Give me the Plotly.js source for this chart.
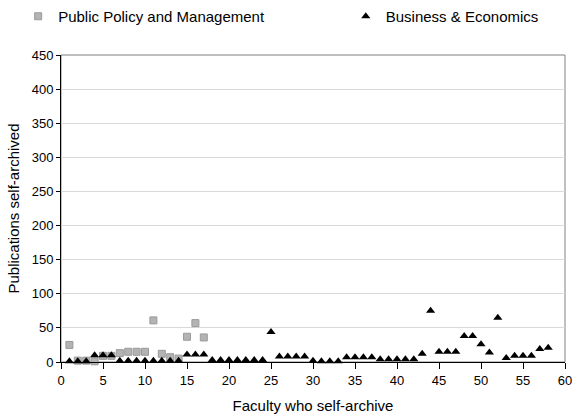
<!DOCTYPE html>
<html><head><meta charset="utf-8">
<script src="https://cdn.plot.ly/plotly-3.0.1.min.js"></script>
<style>html,body{margin:0;padding:0;background:#fff}#chart{width:573px;height:418px}</style>
</head><body><div id="chart"></div>
<script>
var ppmFaculty = [1,2,3,4,5,6,7,8,9,10,11,12,13,14,15,16,17];
var ppmPubs    = [25,2,2,1,9,9,13,15,15,15,61,12,7,5,37,57,36];
var beFaculty = [];
for (var i = 1; i <= 58; i++) beFaculty.push(i);
var bePubs = [1,1,1,10,10,10,2,2,2,2,2,2,2,2,11,11,11,3,3,3,3,3,3,3,44,8,8,8,8,2,1,1,1,7,7,7,7,4,4,4,4,4,12,75,15,15,15,38,38,26,14,65,6,9,9,9,19,21];
var xTicks = [0,5,10,15,20,25,30,35,40,45,50,55,60];
var yTicks = [0,50,100,150,200,250,300,350,400,450];

var fam = 'Liberation Sans, Arial, sans-serif';
function f(s) { return {family: fam, size: s, color: '#000'}; }
var traces = [
  {x: ppmFaculty, y: ppmPubs, mode: 'markers', type: 'scatter', name: 'Public Policy and Management',
   legend: 'legend',
   marker: {symbol: 'square', size: 7, color: '#b3b3b3', line: {color: '#9a9a9a', width: 1}}, cliponaxis: false},
  {x: beFaculty, y: bePubs, mode: 'markers', type: 'scatter', name: 'Business & Economics',
   legend: 'legend2',
   marker: {symbol: 'triangle-up', size: 8, color: '#000', line: {width: 0}}, cliponaxis: false}
];
var legBase = {orientation: 'h', xref: 'paper', y: 1.0, yref: 'container', yanchor: 'top',
               itemwidth: 30, font: f(15), bgcolor: 'rgba(0,0,0,0)'};
var layout = {
  width: 573, height: 418,
  margin: {l: 61, r: 8, t: 55, b: 56},
  paper_bgcolor: '#fff', plot_bgcolor: '#fff',
  font: f(13),
  showlegend: true,
  legend: Object.assign({}, legBase, {x: -0.085, xanchor: 'left'}),
  legend2: Object.assign({}, legBase, {x: 0.565, xanchor: 'left'}),
  xaxis: {range: [0, 60], tickvals: xTicks, ticktext: xTicks.map(String), ticks: 'outside', ticklen: 6,
          tickcolor: '#000', showline: true, linecolor: '#000', linewidth: 1, showgrid: false, zeroline: false,
          title: {text: 'Faculty who self-archive', font: f(15), standoff: 13},
          tickfont: f(13)},
  yaxis: {range: [0, 450], tickvals: yTicks, ticktext: yTicks.map(String), ticks: 'outside', ticklen: 4,
          tickcolor: '#000', showline: true, linecolor: '#000', linewidth: 1, showgrid: true, gridcolor: '#d9d9d9',
          zeroline: false,
          title: {text: 'Publications self-archived', font: f(15), standoff: 8},
          tickfont: f(13)},
  shapes: [{type: 'rect', xref: 'paper', yref: 'paper', x0: 0, x1: 1, y0: 0, y1: 1,
            line: {color: '#808080', width: 1}, layer: 'below'}]
};
Plotly.newPlot('chart', traces, layout, {displayModeBar: false, staticPlot: true});
</script></body></html>
